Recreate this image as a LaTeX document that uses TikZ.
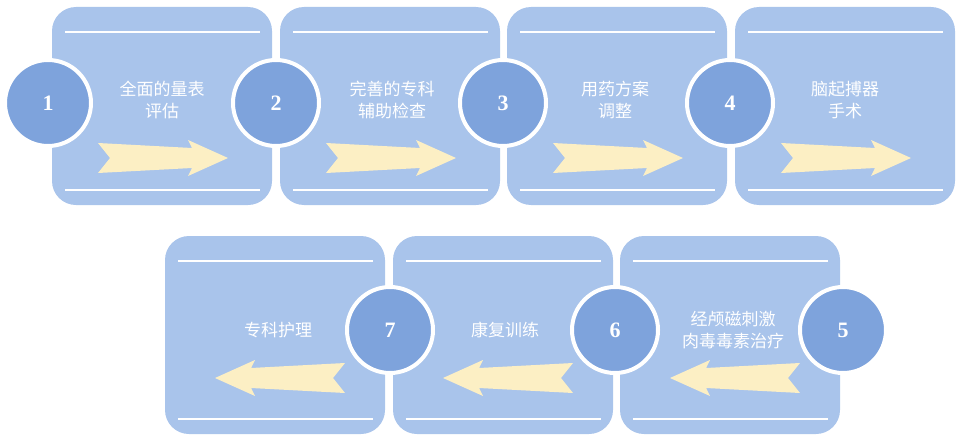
\documentclass[tikz,border=0pt]{standalone}
\usepackage{fontspec}
\setmainfont{Liberation Serif}
\newfontfamily\cjk{Noto Sans CJK SC}
\definecolor{boxc}{HTML}{A9C4EB}
\definecolor{circc}{HTML}{7EA3DC}
\definecolor{arrc}{HTML}{FCEFC4}
\begin{document}
\begin{tikzpicture}[x=1pt,y=-1pt,
  panel/.style={fill=boxc,rounded corners=24pt},
  num/.style={circle,fill=circc,draw=white,line width=4pt,minimum size=86pt,font=\bfseries\fontsize{22}{22}\selectfont,text=white},
  lbl/.style={text=white,font=\cjk\fontsize{17}{22}\selectfont,align=center},
  wl/.style={white,line width=1.2pt}]
\useasboundingbox (0,0) rectangle (960,444);
% panels
\foreach \x/\y in {52/7,280/7,507/7,735/7,165/236,393/236,620/236}{
  \fill[panel] (\x,\y) rectangle ++(220,198);
  \draw[wl] (\x+13,\y+25) -- ++(195,0);
  \draw[wl] (\x+13,\y+183) -- ++(195,0);
}
% right arrows
\foreach \x in {52,280,507,735}{
  \fill[arrc] (\x+46,143) -- (\x+140,148) -- (\x+136,140) -- (\x+176,158) -- (\x+136,176) -- (\x+140,168) -- (\x+46,173) -- (\x+58,158) -- cycle;
}
% left arrows
\foreach \x in {385,613,840}{
  \fill[arrc] (\x-40,363) -- (\x-134,368) -- (\x-130,360) -- (\x-170,378) -- (\x-130,396) -- (\x-134,388) -- (\x-40,393) -- (\x-52,378) -- cycle;
}
\node[lbl] (t1) at (162,100) {全面的量表\\评估};
\node[lbl] (t2) at (392,100) {完善的专科\\辅助检查};
\node[lbl] (t3) at (615,100) {用药方案\\调整};
\node[lbl] (t4) at (845,100) {脑起搏器\\手术};
\node[lbl] (t7) at (278,330) {专科护理};
\node[lbl] (t6) at (505,330) {康复训练};
\node[lbl] (t5) at (733,330) {经颅磁刺激\\肉毒毒素治疗};
\node[num] (c1) at (48,103) {1};
\node[num] (c2) at (276,103) {2};
\node[num] (c3) at (503,103) {3};
\node[num] (c4) at (730,103) {4};
\node[num] (c5) at (843,330) {5};
\node[num] (c6) at (615,330) {6};
\node[num] (c7) at (390,330) {7};
\end{tikzpicture}
\end{document}
